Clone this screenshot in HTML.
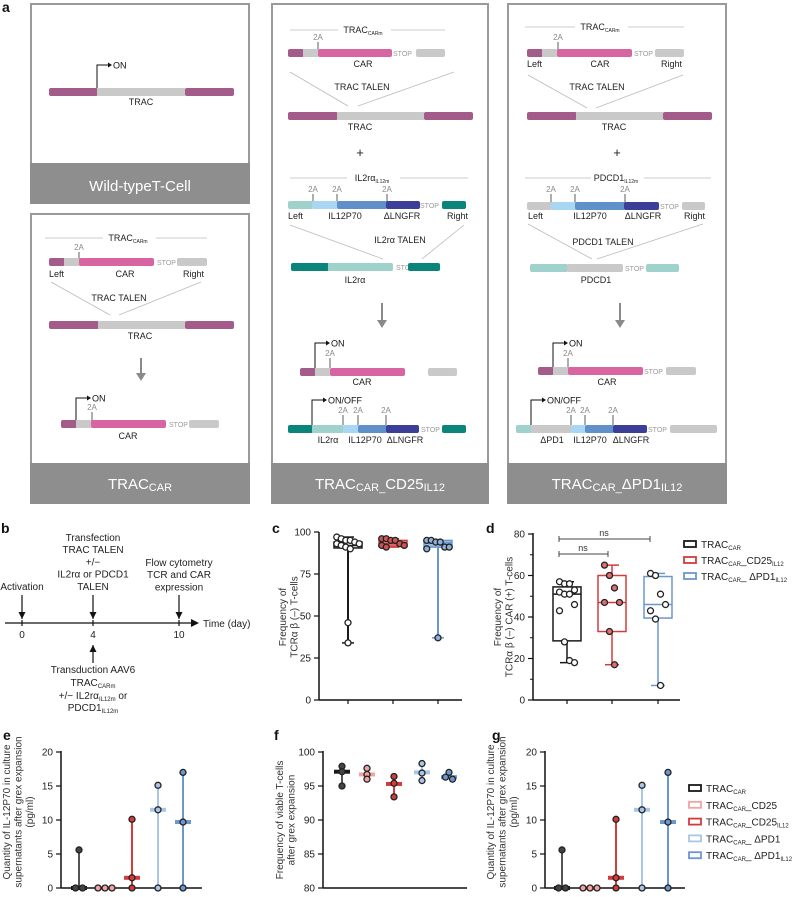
<!DOCTYPE html>
<html><head><meta charset="utf-8"><style>
html,body{margin:0;padding:0;background:#fff}
svg{display:block;font-family:"Liberation Sans",Arial,sans-serif}
</style></head><body>
<svg id="fig" width="799" height="897" viewBox="0 0 799 897" xmlns="http://www.w3.org/2000/svg"></svg>
<script>
// ---------- chart data ----------
const cPoints = [[97,96,95,95,94,93,93,92,91,90,46,34],[96,96,95,95,93,92,92,91],[95,95,94,94,91,91,90,37]];
const cQ1 = [90.5,91.5,91];
const cMed = [92,93,93.5];
const cQ3 = [94,95,95];
const cMin = [34,91,37];
const cMax = [97,96,95];
const cTicks = [0,25,50,75,100];

const dPoints = [[57,56,56,53,52,51,51,46,43,28,19,18],[65,60,54,47,47,33,17],[61,60,51,46,43,39,7]];
const dQ1 = [28.5,33,39.5];
const dMed = [51,47,46];
const dQ3 = [54.5,60,59.5];
const dMin = [18,17,7];
const dMax = [57,65,61];
const dTicks = [0,20,40,60,80];

const ePoints = [[5.6,0,0],[0,0,0],[10.1,1.5,0],[15.1,11.5,0],[17,9.7,0]];
const eMed = [0,0,1.5,11.5,9.7];
const eTicks = [0,5,10,15,20];

const fPoints = [[97.9,97.1,95.0],[97.6,96.7,96.0],[96.4,95.4,93.4],[98.3,96.9,95.8],[97.0,96.3,96.0]];
const fMed = [97.1,96.7,95.3,97.0,96.3];
const fTicks = [80,85,90,95,100];

const gPoints = [[5.6,0,0],[0,0,0],[10.1,1.5,0],[15.1,11.5,0],[17,9.7,0]];
const gMed = [0,0,1.5,11.5,9.7];

// ---------- helpers ----------
const NS = "http://www.w3.org/2000/svg";
const svg = document.getElementById('fig');
function mk(tag, attrs, name, parent) {
  const e = document.createElementNS(NS, tag);
  for (const k in attrs) e.setAttribute(k, attrs[k]);
  
  
  (parent || svg).appendChild(e);
  return e;
}
function T(x, y, html, size, anchor, fill, name, extra) {
  const a = {x: x, y: y, 'font-size': size, 'text-anchor': anchor || 'start', fill: fill || '#222'};
  if (extra) for (const k in extra) a[k] = extra[k];
  const e = mk('text', a, name);
  e.innerHTML = html;
  return e;
}
function R(x1, x2, y, h, color, name) { return mk('rect', {x: x1, y: y, width: x2 - x1, height: h, rx: 2, fill: color}, name); }
function L(x1, y1, x2, y2, color, w, name) { return mk('line', {x1: x1, y1: y1, x2: x2, y2: y2, stroke: color, 'stroke-width': w}, name); }
function sub(s, sz) { return '<tspan font-size="' + sz + '" dy="2">' + s + '</tspan>'; }

const PUR = '#a35c8a', GR = '#c9c9c9', PINK = '#d865a2', TEAL = '#0b847c', LTEAL = '#9fd1cd', LBLUE = '#a9d6f2', MBLUE = '#5f90ca', NAVY = '#3b3f98';

// ---------- panel a boxes ----------
function box(x1, x2, y1, y2, name) {
  mk('rect', {x: x1, y: y1, width: x2 - x1, height: y2 - y1, fill: '#fff', stroke: '#9a9a9a', 'stroke-width': 2}, name);
  mk('rect', {x: x1 - 1, y: y2 - 40, width: x2 - x1 + 2, height: 41, fill: '#8e8e8e'}, name + '-banner');
}
T(2, 12, 'a', 14, 'start', '#111', 'panel-a-label', {'font-weight': 'bold'});
box(31, 249, 4, 203, 'wild-type-box');
box(31, 249, 214, 503, 'trac-car-box');
box(272, 488, 4, 503, 'trac-car-cd25-box');
box(508, 726, 4, 503, 'trac-car-pd1-box');
T(140, 191, 'Wild-typeT-Cell', 15, 'middle', '#fff', 'wild-type-title');
T(140, 489, 'TRAC' + sub('CAR', 11), 15, 'middle', '#fff', 'trac-car-title');
T(380, 489, 'TRAC' + sub('CAR_', 11) + '<tspan dy="-2">CD25</tspan>' + sub('IL12', 11), 15, 'middle', '#fff', 'cd25-title');
T(617, 489, 'TRAC' + sub('CAR_', 11) + '<tspan dy="-2">ΔPD1</tspan>' + sub('IL12', 11), 15, 'middle', '#fff', 'pd1-title');

function promoter(x, yb, yt, label, name) {
  mk('path', {d: 'M' + x + ' ' + yb + ' V' + yt + ' H' + (x + 12), fill: 'none', stroke: '#111', 'stroke-width': 1}, name);
  mk('path', {d: 'M' + (x + 15) + ' ' + yt + ' l-4 -2.5 v5 z', fill: '#111'}, name + '-head');
  T(x + 16, yt + 3.5, label, 9, 'start', '#111', name + '-label');
}
function down(x, y1, y2, name) {
  L(x, y1, x, y2 - 6, '#8a8a8a', 2, name);
  mk('path', {d: 'M' + (x - 5) + ' ' + (y2 - 8) + ' L' + (x + 5) + ' ' + (y2 - 8) + ' L' + x + ' ' + y2 + ' z', fill: '#8a8a8a'}, name + '-head');
}
function titleLine(x1, x2, tx, y, html, name) {
  L(x1, y, tx - 25, y, '#ccc', 1, name + '-line-left');
  L(tx + 28, y, x2, y, '#ccc', 1, name + '-line-right');
  T(tx, y + 3, html, 9, 'middle', '#222', name);
}
const S = 8;
function stop(x, y, name) { T(x, y + 7, 'STOP', 7, 'start', '#999', name); }
function twoA(x, y, name) { T(x, y, '2A', 8, 'middle', '#888', name); L(x, y + 2, x, y + 12, '#333', 0.8, name + '-mark'); }

// Box 1
promoter(97, 88, 65, 'ON', 'wt-promoter');
R(49, 98, 88, S, PUR, 'wt-left-arm'); R(97, 186, 88, S, GR, 'wt-trac'); R(185, 234, 88, S, PUR, 'wt-right-arm');
T(141, 105, 'TRAC', 9, 'middle', '#222', 'wt-trac-label');

// Box 2
titleLine(45, 207, 128, 238, 'TRAC' + sub('CARm', 5), 'b2-title');
twoA(79, 250, 'b2-2a');
R(49, 65, 258, S, PUR, 'b2-left'); R(64, 80, 258, S, GR, 'b2-gray'); R(79, 154, 258, S, PINK, 'b2-car');
stop(157, 258, 'b2-stop'); R(177, 207, 258, S, GR, 'b2-right');
T(49, 277, 'Left', 9, 'start', '#222', 'b2-left-label'); T(125, 277, 'CAR', 9, 'middle', '#222', 'b2-car-label'); T(204, 277, 'Right', 9, 'end', '#222', 'b2-right-label');
L(51, 282, 110, 315, '#bbb', 0.8, 'b2-talen-l'); L(201, 282, 119, 315, '#bbb', 0.8, 'b2-talen-r');
T(119, 301, 'TRAC TALEN', 9, 'middle', '#222', 'b2-talen');
R(49, 99, 321, S, PUR, 'b2-trac-left'); R(98, 186, 321, S, GR, 'b2-trac'); R(185, 234, 321, S, PUR, 'b2-trac-right');
T(140, 339, 'TRAC', 9, 'middle', '#222', 'b2-trac-label');
down(141, 358, 381, 'b2-arrow');
promoter(76, 420, 398, 'ON', 'b2-promoter');
twoA(92, 410, 'b2-2a-b');
R(61, 77, 420, S, PUR, 'b2r-left'); R(76, 92, 420, S, GR, 'b2r-gray'); R(91, 166, 420, S, PINK, 'b2r-car'); stop(169, 420, 'b2r-stop'); R(189, 219, 420, S, GR, 'b2r-right');
T(128, 439, 'CAR', 9, 'middle', '#222', 'b2r-car-label');

// Box 3
titleLine(290, 445, 363, 30, 'TRAC' + sub('CARm', 5), 'b3-title');
twoA(318, 40, 'b3-2a');
R(288, 304, 49, S, PUR, 'b3-left'); R(303, 319, 49, S, GR, 'b3-gray'); R(318, 392, 49, S, PINK, 'b3-car'); stop(393, 49, 'b3-stop'); R(416, 445, 49, S, GR, 'b3-right');
T(363, 67, 'CAR', 9, 'middle', '#222', 'b3-car-label');
L(290, 72, 348, 106, '#bbb', 0.8, 'b3-tl'); L(454, 72, 358, 106, '#bbb', 0.8, 'b3-tr');
T(362, 90, 'TRAC TALEN', 9, 'middle', '#222', 'b3-talen');
R(288, 338, 112, S, PUR, 'b3-trac-l'); R(337, 425, 112, S, GR, 'b3-trac'); R(424, 473, 112, S, PUR, 'b3-trac-r');
T(360, 130, 'TRAC', 9, 'middle', '#222', 'b3-trac-label');
T(360, 157, '+', 13, 'middle', '#222', 'b3-plus');
titleLine(290, 468, 372, 178, 'IL2rα' + sub('IL12m', 5), 'b3-il2-title');
twoA(313, 192, 'b3-2a-1'); twoA(337, 192, 'b3-2a-2'); twoA(387, 192, 'b3-2a-3');
R(288, 313, 201, S, LTEAL, 'b3d-left'); R(312, 338, 201, S, LBLUE, 'b3d-lb'); R(337, 387, 201, S, MBLUE, 'b3d-il12'); R(386, 420, 201, S, NAVY, 'b3d-lngfr'); stop(420, 201, 'b3d-stop'); R(442, 466, 201, S, TEAL, 'b3d-right');
T(288, 219, 'Left', 9, 'start', '#222', 'b3d-left-label'); T(345, 219, 'IL12P70', 9, 'middle', '#222', 'b3d-il12-label'); T(402, 219, 'ΔLNGFR', 9, 'middle', '#222', 'b3d-lngfr-label'); T(468, 219, 'Right', 9, 'end', '#222', 'b3d-right-label');
L(290, 225, 383, 259, '#bbb', 0.8, 'b3-il2-tl'); L(464, 225, 422, 259, '#bbb', 0.8, 'b3-il2-tr');
T(400, 243, 'IL2rα TALEN', 9, 'middle', '#222', 'b3-il2-talen');
R(291, 329, 263, S, TEAL, 'b3-il2-l'); R(328, 393, 263, S, LTEAL, 'b3-il2'); stop(396, 263, 'b3-il2-stop'); R(408, 440, 263, S, TEAL, 'b3-il2-r');
T(355, 283, 'IL2rα', 9, 'middle', '#222', 'b3-il2-label');
down(382, 303, 328, 'b3-arrow');
promoter(315, 368, 343, 'ON', 'b3-promoter');
twoA(330, 356, 'b3-2a-b');
R(300, 316, 368, S, PUR, 'b3r-l'); R(315, 331, 368, S, GR, 'b3r-g'); R(330, 405, 368, S, PINK, 'b3r-car'); R(428, 457, 368, S, GR, 'b3r-right');
T(362, 385, 'CAR', 9, 'middle', '#222', 'b3r-car-label');
promoter(312, 425, 400, 'ON/OFF', 'b3-promoter2');
twoA(343, 413, 'b3-2a-c1'); twoA(358, 413, 'b3-2a-c2'); twoA(386, 413, 'b3-2a-c3');
R(288, 313, 425, S, TEAL, 'b3e-l'); R(312, 344, 425, S, LTEAL, 'b3e-il2'); R(343, 359, 425, S, LBLUE, 'b3e-lb'); R(358, 387, 425, S, MBLUE, 'b3e-il12'); R(386, 419, 425, S, NAVY, 'b3e-lngfr'); stop(421, 425, 'b3e-stop'); R(442, 466, 425, S, TEAL, 'b3e-r');
T(328, 443, 'IL2rα', 9, 'middle', '#222', 'b3e-il2-label'); T(365, 443, 'IL12P70', 9, 'middle', '#222', 'b3e-il12-label'); T(405, 443, 'ΔLNGFR', 9, 'middle', '#222', 'b3e-lngfr-label');

// Box 4
titleLine(525, 684, 600, 27, 'TRAC' + sub('CARm', 5), 'b4-title');
twoA(558, 40, 'b4-2a');
R(527, 543, 49, S, PUR, 'b4-left'); R(542, 558, 49, S, GR, 'b4-gray'); R(557, 632, 49, S, PINK, 'b4-car'); stop(634, 49, 'b4-stop'); R(655, 684, 49, S, GR, 'b4-right');
T(527, 67, 'Left', 9, 'start', '#222', 'b4-left-label'); T(600, 67, 'CAR', 9, 'middle', '#222', 'b4-car-label'); T(682, 67, 'Right', 9, 'end', '#222', 'b4-right-label');
L(528, 75, 587, 108, '#bbb', 0.8, 'b4-tl'); L(683, 75, 596, 108, '#bbb', 0.8, 'b4-tr');
T(597, 90, 'TRAC TALEN', 9, 'middle', '#222', 'b4-talen');
R(527, 577, 112, S, PUR, 'b4-trac-l'); R(576, 664, 112, S, GR, 'b4-trac'); R(663, 712, 112, S, PUR, 'b4-trac-r');
T(614, 130, 'TRAC', 9, 'middle', '#222', 'b4-trac-label');
T(617, 157, '+', 13, 'middle', '#222', 'b4-plus');
titleLine(525, 711, 616, 178, 'PDCD1' + sub('IL12m', 5), 'b4-pd-title');
twoA(551, 192, 'b4-2a-1'); twoA(575, 192, 'b4-2a-2'); twoA(625, 192, 'b4-2a-3');
R(527, 552, 202, S, GR, 'b4d-left'); R(551, 576, 202, S, LBLUE, 'b4d-lb'); R(575, 625, 202, S, MBLUE, 'b4d-il12'); R(624, 659, 202, S, NAVY, 'b4d-lngfr'); stop(660, 202, 'b4d-stop'); R(682, 705, 202, S, GR, 'b4d-right');
T(528, 219, 'Left', 9, 'start', '#222', 'b4d-left-label'); T(590, 219, 'IL12P70', 9, 'middle', '#222', 'b4d-il12-label'); T(643, 219, 'ΔLNGFR', 9, 'middle', '#222', 'b4d-lngfr-label'); T(705, 219, 'Right', 9, 'end', '#222', 'b4d-right-label');
L(528, 224, 592, 259, '#bbb', 0.8, 'b4-pd-tl'); L(703, 224, 597, 259, '#bbb', 0.8, 'b4-pd-tr');
T(603, 245, 'PDCD1 TALEN', 9, 'middle', '#222', 'b4-pd-talen');
R(530, 568, 264, S, LTEAL, 'b4-pd-l'); R(567, 623, 264, S, GR, 'b4-pd'); stop(625, 264, 'b4-pd-stop'); R(646, 679, 264, S, LTEAL, 'b4-pd-r');
T(596, 283, 'PDCD1', 9, 'middle', '#222', 'b4-pd-label');
down(620, 303, 328, 'b4-arrow');
promoter(553, 367, 343, 'ON', 'b4-promoter');
twoA(568, 356, 'b4-2a-b');
R(538, 554, 367, S, PUR, 'b4r-l'); R(553, 569, 367, S, GR, 'b4r-g'); R(568, 643, 367, S, PINK, 'b4r-car'); stop(644, 367, 'b4r-stop'); R(666, 696, 367, S, GR, 'b4r-right');
T(607, 385, 'CAR', 9, 'middle', '#222', 'b4r-car-label');
promoter(531, 425, 400, 'ON/OFF', 'b4-promoter2');
twoA(571, 413, 'b4-2a-c1'); twoA(585, 413, 'b4-2a-c2'); twoA(613, 413, 'b4-2a-c3');
R(516, 532, 425, S, LTEAL, 'b4e-l'); R(531, 572, 425, S, GR, 'b4e-pd1'); R(571, 586, 425, S, LBLUE, 'b4e-lb'); R(585, 614, 425, S, MBLUE, 'b4e-il12'); R(613, 647, 425, S, NAVY, 'b4e-lngfr'); stop(648, 425, 'b4e-stop'); R(670, 717, 425, S, GR, 'b4e-r');
T(552, 443, 'ΔPD1', 9, 'middle', '#222', 'b4e-pd1-label'); T(590, 443, 'IL12P70', 9, 'middle', '#222', 'b4e-il12-label'); T(631, 443, 'ΔLNGFR', 9, 'middle', '#222', 'b4e-lngfr-label');

// ---------- panel b ----------
T(1, 533, 'b', 14, 'start', '#111', 'panel-b-label', {'font-weight': 'bold'});
L(5, 623, 193, 623, '#111', 1.2, 'timeline-axis');
mk('path', {d: 'M199 623 l-8 -4 v8 z', fill: '#111'}, 'timeline-arrowhead');
T(203, 627, 'Time (day)', 10, 'start', '#222', 'timeline-title');
function vArrow(x, y1, y2, name) {
  L(x, y1, x, y2, '#111', 1.2, name);
  const dir = y2 > y1 ? -1 : 1;
  mk('path', {d: 'M' + (x - 3.5) + ' ' + (y2 + dir * 7) + ' L' + (x + 3.5) + ' ' + (y2 + dir * 7) + ' L' + x + ' ' + y2 + ' z', fill: '#111'}, name + '-head');
}
[[22, '0'], [93, '4'], [179, '10']].forEach(function (t) {
  L(t[0], 620, t[0], 626, '#111', 1.2, 'timeline-tick');
  T(t[0], 638, t[1], 10, 'middle', '#222', 'timeline-tick-label');
});
vArrow(22, 595, 619, 'activation-arrow');
vArrow(93, 595, 619, 'transfection-arrow');
vArrow(179, 595, 619, 'flow-arrow');
vArrow(93, 663, 645, 'transduction-arrow');
T(22, 590, 'Activation', 10, 'middle', '#222', 'activation-label');
['Transfection', 'TRAC TALEN', '+/−', 'IL2rα or PDCD1', 'TALEN'].forEach(function (s, i) { T(93, 541 + i * 12.2, s, 10, 'middle', '#222', 'transfection-label'); });
['Flow cytometry', 'TCR and CAR', 'expression'].forEach(function (s, i) { T(179, 566 + i * 12.2, s, 10, 'middle', '#222', 'flow-label'); });
T(93, 673, 'Transduction AAV6', 10, 'middle', '#222', 'transduction-label');
T(93, 686, 'TRAC' + sub('CARm', 6), 10, 'middle', '#222', 'transduction-label-2');
T(93, 699, '+/− IL2rα' + sub('IL12m', 6) + '<tspan dy="-2"> or</tspan>', 10, 'middle', '#222', 'transduction-label-3');
T(93, 711, 'PDCD1' + sub('IL12m', 6), 10, 'middle', '#222', 'transduction-label-4');

// ---------- chart helpers ----------
const COLS = ['#1a1a1a', '#f0a3a3', '#d23c3c', '#a9c6e6', '#6b97cd'];
const BOX3 = ['#1a1a1a', '#d23c3c', '#6b97cd'];
function yAxis(x, yTop, yBot, ticks, yf, name, minor) {
  L(x, yTop - 1, x, yBot, '#111', 1.5, name + '-line');
  ticks.forEach(function (t) {
    L(x - 5, yf(t), x, yf(t), '#111', 1.2, name + '-tick');
    T(x - 8, yf(t) + 3.5, String(t), 10, 'end', '#222', name + '-tick-label');
  });
  (minor || []).forEach(function (t) { L(x - 3, yf(t), x, yf(t), '#111', 1, name + '-minor-tick'); });
}
function yTitle(cx, cy, lines, name) {
  const e = mk('text', {transform: 'translate(' + cx + ',' + cy + ') rotate(-90)', 'font-size': 10, 'text-anchor': 'middle', fill: '#333'}, name);
  e.innerHTML = lines.map(function (l, i) { return '<tspan x="0" dy="' + (i === 0 ? 0 : 11.5) + '">' + l + '</tspan>'; }).join('');
}
function pt(x, y, fill, name) { mk('circle', {cx: x, cy: y, r: 3, fill: fill, stroke: '#222', 'stroke-width': 1.3}, name); }

// ---------- panel c ----------
T(272, 533, 'c', 14, 'start', '#111', 'panel-c-label', {'font-weight': 'bold'});
const cY = function (v) { return 700 - v * 1.68; };
const cX = [348, 393, 438];
yAxis(319, 533, 700, cTicks, cY, 'c-y-axis');
L(319, 700, 462, 700, '#111', 1.5, 'c-x-axis');
yTitle(286, 617, ['Frequency of', 'TCRα β (–) T-cells'], 'c-y-title');
cX.forEach(function (x, g) {
  const c = BOX3[g];
  L(x, 700, x, 704, '#111', 1.2, 'c-x-tick');
  L(x, cY(cMin[g]), x, cY(cMax[g]), c, 2, 'c-whisker');
  L(x - 6, cY(cMin[g]), x + 6, cY(cMin[g]), c, 1.5, 'c-cap-min');
  L(x - 6, cY(cMax[g]), x + 6, cY(cMax[g]), c, 1.5, 'c-cap-max');
  mk('rect', {x: x - 14, y: cY(cQ3[g]), width: 28, height: cY(cQ1[g]) - cY(cQ3[g]), fill: g === 0 ? '#fff' : (g === 1 ? '#e88' : '#9dbde0'), stroke: c, 'stroke-width': 1.5}, 'c-box');
  L(x - 14, cY(cMed[g]), x + 14, cY(cMed[g]), c, 1.5, 'c-median');
  cPoints[g].forEach(function (v, i) {
    const off = v > 80 ? ((i % 6) - 2.5) * 4.5 : 0;
    pt(x + off, cY(v), g === 0 ? '#fff' : (g === 1 ? '#c55' : '#8fb0d8'), 'c-point');
  });
});

// ---------- panel d ----------
T(486, 533, 'd', 14, 'start', '#111', 'panel-d-label', {'font-weight': 'bold'});
const dY = function (v) { return 700 - v * 2.075; };
const dX = [567, 612, 658];
yAxis(533, 534, 700, dTicks, dY, 'd-y-axis', [10, 30, 50, 70]);
L(533, 700, 680, 700, '#111', 1.5, 'd-x-axis');
yTitle(501, 617, ['Frequency of', 'TCRα β (–) CAR (+) T-cells'], 'd-y-title');
dX.forEach(function (x, g) {
  const c = BOX3[g];
  L(x, 700, x, 704, '#111', 1.2, 'd-x-tick');
  L(x, dY(dMin[g]), x, dY(dQ1[g]), c, 1.5, 'd-whisker-low');
  L(x, dY(dQ3[g]), x, dY(dMax[g]), c, 1.5, 'd-whisker-high');
  L(x - 7, dY(dMin[g]), x + 7, dY(dMin[g]), c, 1.5, 'd-cap-min');
  L(x - 7, dY(dMax[g]), x + 7, dY(dMax[g]), c, 1.5, 'd-cap-max');
  mk('rect', {x: x - 14, y: dY(dQ3[g]), width: 28, height: dY(dQ1[g]) - dY(dQ3[g]), fill: 'none', stroke: c, 'stroke-width': 1.5}, 'd-box');
  L(x - 14, dY(dMed[g]), x + 14, dY(dMed[g]), c, 1.5, 'd-median');
  dPoints[g].forEach(function (v, i) {
    const off = ((i % 4) - 1.5) * 5;
    pt(x + off, dY(v), g === 0 ? '#fff' : (g === 1 ? '#e07070' : '#fff'), 'd-point');
  });
});
function bracket(x1, x2, y, name) {
  L(x1, y, x2, y, '#444', 1, name);
  L(x1, y - 3, x1, y + 3, '#444', 1, name + '-end');
  L(x2, y - 3, x2, y + 3, '#444', 1, name + '-end');
}
bracket(559, 650, 539, 'ns-bracket-top'); T(604, 536, 'ns', 9, 'middle', '#333', 'ns-label-top');
bracket(559, 608, 554, 'ns-bracket-bottom'); T(583, 551, 'ns', 9, 'middle', '#333', 'ns-label-bottom');
[['#1a1a1a', 'TRAC' + sub('CAR', 6)], ['#d23c3c', 'TRAC' + sub('CAR', 6) + '<tspan dy="-2">_CD25</tspan>' + sub('IL12', 6)], ['#6b97cd', 'TRAC' + sub('CAR', 6) + '<tspan dy="-2">_ ΔPD1</tspan>' + sub('IL12', 6)]].forEach(function (l, i) {
  mk('rect', {x: 684, y: 541 + i * 16, width: 12, height: 6, fill: 'none', stroke: l[0], 'stroke-width': 1.8}, 'd-legend-swatch');
  T(701, 548 + i * 16, l[1], 10, 'start', '#222', 'd-legend-entry');
});

// ---------- dot-range charts e/f/g ----------
function rangeChart(ax, xEnd, xs, pts, meds, yf, pre) {
  L(ax, 888, xEnd, 888, '#111', 1.5, pre + '-x-axis');
  xs.forEach(function (x, g) {
    const v = pts[g], c = COLS[g];
    const mx = Math.max.apply(null, v), mn = Math.min.apply(null, v);
    L(x, yf(mn), x, yf(mx), c, g === 0 ? 1.5 : 2, pre + '-range');
    L(x - 8, yf(meds[g]), x + 8, yf(meds[g]), c, 4, pre + '-median');
    v.forEach(function (val, i) {
      let off = 0;
      const same = v.filter(function (w) { return Math.abs(w - val) < 0.4; }).length;
      if (same > 1) off = (v.slice(0, i).filter(function (w) { return Math.abs(w - val) < 0.4; }).length - (same - 1) / 2) * 7;
      pt(x + off, yf(val), g === 0 ? '#444' : c, pre + '-point');
    });
  });
}
const eY = function (v) { return 888 - v * 6.8; };
T(3, 740, 'e', 14, 'start', '#111', 'panel-e-label', {'font-weight': 'bold'});
yAxis(61, 752, 888, eTicks, eY, 'e-y-axis');
yTitle(10, 812, ['Quantity of IL-12P70 in culture', 'supernatants after grex expansion', '(pg/ml)'], 'e-y-title');
rangeChart(61, 202, [79, 105, 132, 158, 183], ePoints, eMed, eY, 'e');

const fY = function (v) { return 888 - (v - 80) * 6.8; };
T(274, 740, 'f', 14, 'start', '#111', 'panel-f-label', {'font-weight': 'bold'});
yAxis(323, 752, 888, fTicks, fY, 'f-y-axis');
yTitle(283, 820, ['Frequency of viable T-cells', 'after grex expansion'], 'f-y-title');
rangeChart(323, 467, [342, 367, 394, 422, 449], fPoints, fMed, fY, 'f');

T(492, 740, 'g', 14, 'start', '#111', 'panel-g-label', {'font-weight': 'bold'});
yAxis(545, 752, 888, eTicks, eY, 'g-y-axis');
yTitle(494, 812, ['Quantity of IL-12P70 in culture', 'supernatants after grex expansion', '(pg/ml)'], 'g-y-title');
rangeChart(545, 685, [562, 590, 616, 642, 668], gPoints, gMed, eY, 'g');
[['#1a1a1a', 'TRAC' + sub('CAR', 6)], ['#f0a3a3', 'TRAC' + sub('CAR', 6) + '<tspan dy="-2">_CD25</tspan>'], ['#d23c3c', 'TRAC' + sub('CAR', 6) + '<tspan dy="-2">_CD25</tspan>' + sub('IL12', 6)], ['#a9c6e6', 'TRAC' + sub('CAR', 6) + '<tspan dy="-2">_ ΔPD1</tspan>'], ['#6b97cd', 'TRAC' + sub('CAR', 6) + '<tspan dy="-2">_ ΔPD1</tspan>' + sub('IL12', 6)]].forEach(function (l, i) {
  mk('rect', {x: 689, y: 785 + i * 16.8, width: 12, height: 6, fill: 'none', stroke: l[0], 'stroke-width': 1.8}, 'g-legend-swatch');
  T(706, 792 + i * 16.8, l[1], 10, 'start', '#222', 'g-legend-entry');
});
</script>
</body></html>
